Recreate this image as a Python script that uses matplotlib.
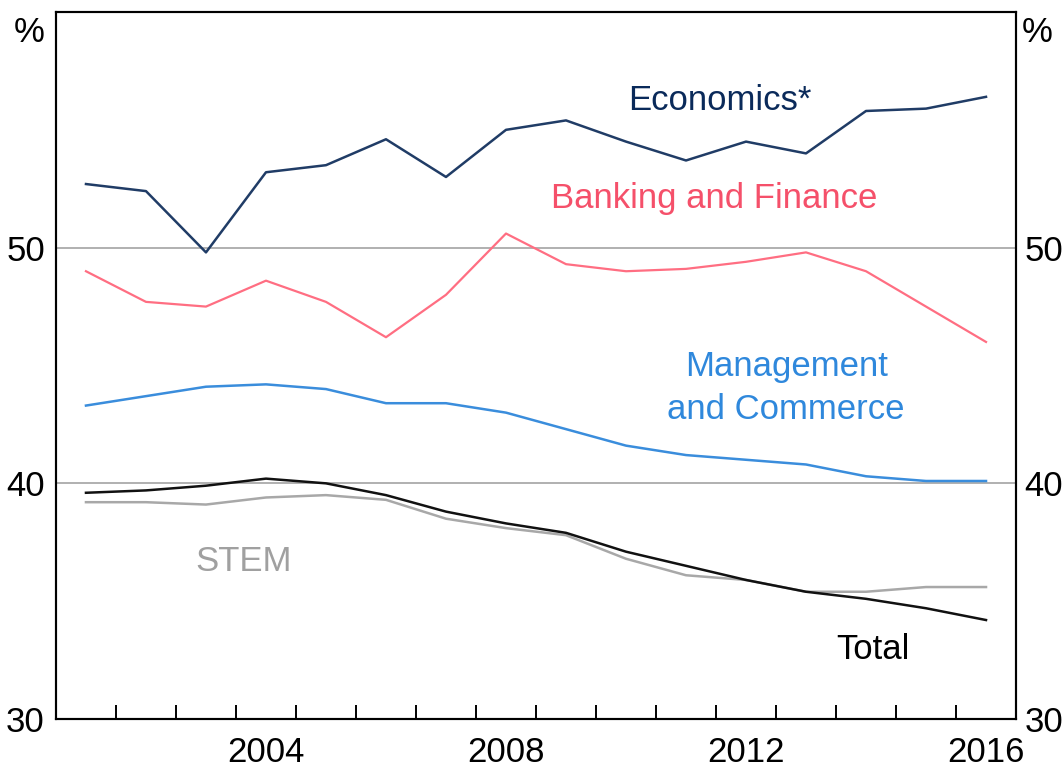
import numpy as np
import matplotlib
matplotlib.use("Agg")
import matplotlib.pyplot as plt

plt.rcParams["font.family"] = ["Liberation Sans", "DejaVu Sans"]

years = np.arange(2001, 2017)

economics = [52.7, 52.4, 49.8, 53.2, 53.5, 54.6, 53.0, 55.0, 55.4, 54.5,
             53.7, 54.5, 54.0, 55.8, 55.9, 56.4]
banking = [49.0, 47.7, 47.5, 48.6, 47.7, 46.2, 48.0, 50.6, 49.3, 49.0,
           49.1, 49.4, 49.8, 49.0, 47.5, 46.0]
management = [43.3, 43.7, 44.1, 44.2, 44.0, 43.4, 43.4, 43.0, 42.3, 41.6,
              41.2, 41.0, 40.8, 40.3, 40.1, 40.1]
total = [39.6, 39.7, 39.9, 40.2, 40.0, 39.5, 38.8, 38.3, 37.9, 37.1,
         36.5, 35.9, 35.4, 35.1, 34.7, 34.2]
stem = [39.2, 39.2, 39.1, 39.4, 39.5, 39.3, 38.5, 38.1, 37.8, 36.8,
        36.1, 35.9, 35.4, 35.4, 35.6, 35.6]

year_labels = [2004, 2008, 2012, 2016]
y_ticks = [30, 40, 50]

c_econ = "#203c66"
c_bank = "#ff6e82"
c_mgmt = "#3a8ddc"
c_total = "#111111"
c_stem = "#a8a8a8"

fig = plt.figure(figsize=(10.62, 7.69), dpi=100)
ax = fig.add_axes([0.0527, 0.065, 0.904, 0.9194])

for v in [40, 50]:
    ax.axhline(v, color="#b0b0b0", linewidth=1.4, zorder=1)

ax.plot(years, stem, color=c_stem, linewidth=1.8, zorder=2)
ax.plot(years, total, color=c_total, linewidth=1.8, zorder=3)
ax.plot(years, management, color=c_mgmt, linewidth=1.8, zorder=3)
ax.plot(years, banking, color=c_bank, linewidth=1.6, zorder=3)
ax.plot(years, economics, color=c_econ, linewidth=1.8, zorder=3)

ax.set_xlim(2000.5, 2016.5)
ax.set_ylim(30, 60)

# year boundaries as tick marks, year labels without marks
ax.set_xticks(np.arange(2001.5, 2016.0, 1.0))
ax.set_xticklabels([])
ax.tick_params(axis="x", which="major", direction="in", length=10, width=1.4, color="black")
ax.set_xticks(year_labels, minor=True)
ax.set_xticklabels([str(y) for y in year_labels], minor=True, fontsize=25)
ax.tick_params(axis="x", which="minor", length=0, pad=12)

ax.set_yticks(y_ticks)
ax.set_yticklabels([str(v) for v in y_ticks], fontsize=25)
ax.tick_params(axis="y", length=0, pad=8)

ax2 = ax.twinx()
ax2.set_ylim(30, 60)
ax2.set_yticks(y_ticks)
ax2.set_yticklabels([str(v) for v in y_ticks], fontsize=25)
ax2.tick_params(axis="y", length=0, pad=6)

for a in (ax, ax2):
    for s in a.spines.values():
        s.set_linewidth(1.5)
        s.set_color("black")

ax.text(-0.012, 0.995, "%", transform=ax.transAxes, ha="right", va="top", fontsize=25)
ax.text(1.006, 0.995, "%", transform=ax.transAxes, ha="left", va="top", fontsize=25)

ax.text(2011.57, 56.25, "Economics*", color="#0a2a5a", ha="center", va="center", fontsize=25)
ax.text(2011.47, 52.1, "Banking and Finance", color="#f5506a", ha="center", va="center", fontsize=25)
ax.text(2012.67, 44.05, "Management\nand Commerce", color="#2f88dc", ha="center", va="center",
        fontsize=25, linespacing=1.4)
ax.text(2003.62, 36.7, "STEM", color="#a0a0a0", ha="center", va="center", fontsize=25)
ax.text(2014.12, 32.95, "Total", color="black", ha="center", va="center", fontsize=25)

fig.savefig("out.png", dpi=100)
